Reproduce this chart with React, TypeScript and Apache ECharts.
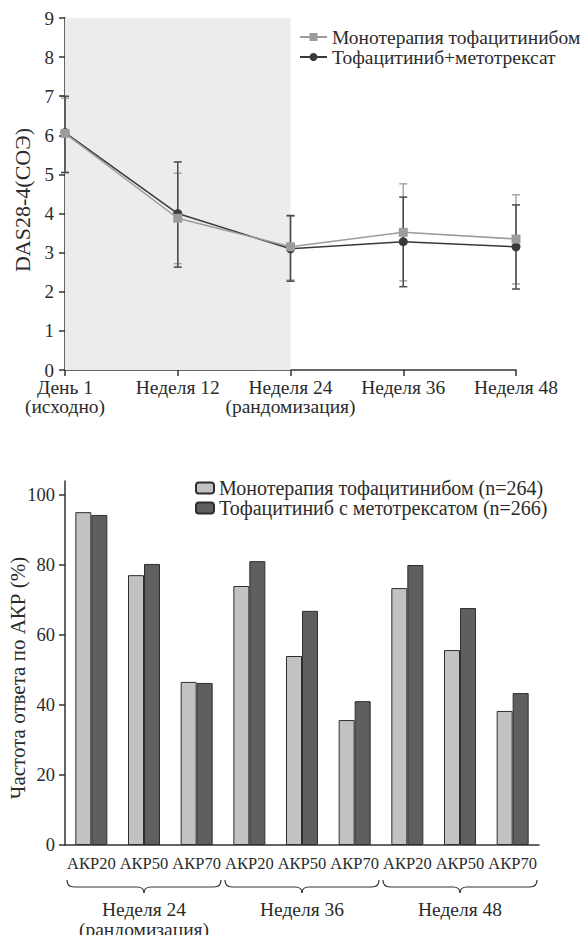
import React, { useEffect, useRef } from 'react';
import * as echarts from 'echarts';

const FONT = "'Liberation Serif', 'Times New Roman', serif";
const TEXT = '#2b2b2b';
const AXIS = '#333333';

// Top chart: DAS28-4(СОЭ)
const timepoints = ['День 1', 'Неделя 12', 'Неделя 24', 'Неделя 36', 'Неделя 48'];
const timeSublabels = ['(исходно)', '', '(рандомизация)', '', ''];
const monoName = 'Монотерапия тофацитинибом';
const comboName = 'Тофацитиниб+метотрексат';
const monoMean = [6.05, 3.88, 3.15, 3.52, 3.35];
const monoLow = [5.05, 2.72, 2.3, 2.28, 2.2];
const monoHigh = [6.95, 5.03, 3.93, 4.76, 4.48];
const comboMean = [6.07, 4.0, 3.1, 3.28, 3.15];
const comboLow = [5.05, 2.63, 2.27, 2.13, 2.07];
const comboHigh = [7.0, 5.32, 3.95, 4.42, 4.22];

// Bottom chart: ACR response
const acrCategories = ['АКР20', 'АКР50', 'АКР70', 'АКР20', 'АКР50', 'АКР70', 'АКР20', 'АКР50', 'АКР70'];
const weekGroups = ['Неделя 24\n(рандомизация)', 'Неделя 36', 'Неделя 48'];
const barMonoName = 'Монотерапия тофацитинибом (n=264)';
const barComboName = 'Тофацитиниб с метотрексатом (n=266)';
const barMono = [95.1, 77.1, 46.6, 74.0, 54.0, 35.7, 73.4, 55.7, 38.3];
const barCombo = [94.3, 80.3, 46.3, 81.1, 66.9, 41.1, 80.0, 67.7, 43.4];
const acrTicks = [0, 20, 40, 60, 80, 100];

function errorSeries(name: string, low: number[], high: number[], color: string, z: number) {
  return {
    type: 'custom',
    name,
    xAxisIndex: 0,
    yAxisIndex: 0,
    z,
    silent: true,
    data: low.map((l, i) => [i, l, high[i]]),
    encode: { x: 0, y: [1, 2] },
    renderItem: (params: any, api: any) => {
      const i = api.value(0);
      const lo = api.coord([i, api.value(1)]);
      const hi = api.coord([i, api.value(2)]);
      const w = 4;
      const style = { stroke: color, lineWidth: 1.5 };
      return {
        type: 'group',
        children: [
          { type: 'line', shape: { x1: lo[0], y1: lo[1], x2: hi[0], y2: hi[1] }, style },
          { type: 'line', shape: { x1: lo[0] - w, y1: lo[1], x2: lo[0] + w, y2: lo[1] }, style },
          { type: 'line', shape: { x1: hi[0] - w, y1: hi[1], x2: hi[0] + w, y2: hi[1] }, style },
        ],
      };
    },
  };
}

export default function App() {
  const ref = useRef<HTMLDivElement>(null);
  useEffect(() => {
    if (!ref.current) return;
    const chart = echarts.init(ref.current, undefined, { renderer: 'svg' });
    const braceStyle = { stroke: '#333', lineWidth: 1.2, fill: null };
    chart.setOption({
      animation: false,
      textStyle: { fontFamily: FONT, color: TEXT },
      grid: [
        { left: 65, top: 18, right: 66, bottom: 565, containLabel: false, outerBoundsMode: 'none' },
        { left: 65, top: 481, right: 43, bottom: 90, containLabel: false, outerBoundsMode: 'none' },
      ],
      legend: [
        {
          data: [monoName, comboName],
          orient: 'vertical',
          left: 294,
          top: 22,
          itemWidth: 27,
          itemHeight: 10,
          itemGap: 0,
          textStyle: { fontSize: 19.5, fontFamily: FONT, color: TEXT },
        },
        {
          data: [barMonoName, barComboName],
          orient: 'vertical',
          left: 190,
          top: 473,
          itemWidth: 18,
          itemHeight: 11,
          itemGap: 0,
          textStyle: { fontSize: 20, fontFamily: FONT, color: TEXT },
        },
      ],
      xAxis: [
        {
          type: 'category',
          gridIndex: 0,
          data: timepoints,
          boundaryGap: false,
          axisLine: { lineStyle: { color: AXIS, width: 1.5 } },
          axisTick: { length: 6, lineStyle: { color: AXIS, width: 1.5 } },
          axisLabel: {
            fontSize: 19.5,
            color: TEXT,
            fontFamily: FONT,
            margin: 8,
            lineHeight: 19,
            interval: 0,
            formatter: (v: string, i: number) => (timeSublabels[i] ? v + '\n' + timeSublabels[i] : v),
          },
        },
        {
          type: 'category',
          gridIndex: 1,
          data: acrCategories,
          axisLine: { lineStyle: { color: AXIS, width: 1.5 } },
          axisTick: { length: 6, lineStyle: { color: AXIS, width: 1.5 } },
          axisLabel: { fontSize: 16.5, color: TEXT, fontFamily: FONT, margin: 10, interval: 0 },
        },
        {
          type: 'category',
          gridIndex: 1,
          data: weekGroups,
          position: 'bottom',
          offset: 46,
          axisLine: { show: false },
          axisTick: { show: false },
          axisLabel: { fontSize: 19.5, color: TEXT, fontFamily: FONT, margin: 8, lineHeight: 20, interval: 0 },
        },
      ],
      yAxis: [
        {
          type: 'value',
          gridIndex: 0,
          min: 0,
          max: 9,
          interval: 1,
          name: 'DAS28-4(СОЭ)',
          nameLocation: 'middle',
          nameGap: 32,
          nameMoveOverlap: false,
          nameTextStyle: { fontSize: 22, color: TEXT, fontFamily: FONT, padding: [0, 12, 0, 0] },
          splitLine: { show: false },
          axisLine: { show: true, lineStyle: { color: AXIS, width: 1.5 } },
          axisTick: { show: true, length: 6, lineStyle: { color: AXIS, width: 1.5 } },
          axisLabel: { fontSize: 19, color: TEXT, fontFamily: FONT, margin: 11 },
        },
        {
          type: 'value',
          gridIndex: 1,
          min: 0,
          max: 104,
          interval: 20,
          name: 'Частота ответа по АКР (%)',
          nameLocation: 'middle',
          nameGap: 37,
          nameMoveOverlap: false,
          nameTextStyle: { fontSize: 21, color: TEXT, fontFamily: FONT, padding: [0, 30, 0, 0] },
          splitLine: { show: false },
          axisLine: { show: true, lineStyle: { color: AXIS, width: 1.5 } },
          axisTick: { show: true, length: 6, customValues: acrTicks, lineStyle: { color: AXIS, width: 1.5 } },
          axisLabel: { fontSize: 18.5, color: TEXT, fontFamily: FONT, margin: 10, customValues: acrTicks },
        },
      ],
      series: [
        errorSeries('err-mono', monoLow, monoHigh, '#a6a6a6', 2),
        errorSeries('err-combo', comboLow, comboHigh, '#4a4a4a', 3),
        {
          type: 'line',
          name: comboName,
          xAxisIndex: 0,
          yAxisIndex: 0,
          z: 4,
          data: comboMean,
          symbol: 'circle',
          symbolSize: 9,
          lineStyle: { color: '#3a3a3a', width: 1.5 },
          itemStyle: { color: '#3a3a3a' },
        },
        {
          type: 'line',
          name: monoName,
          xAxisIndex: 0,
          yAxisIndex: 0,
          z: 5,
          data: monoMean,
          symbol: 'rect',
          symbolSize: 9,
          lineStyle: { color: '#9c9c9c', width: 1.5 },
          itemStyle: { color: '#9c9c9c' },
          markArea: {
            silent: true,
            itemStyle: { color: '#ececec' },
            data: [[{ xAxis: timepoints[0] }, { xAxis: timepoints[2] }]],
          },
        },
        {
          type: 'bar',
          name: barMonoName,
          xAxisIndex: 1,
          yAxisIndex: 1,
          data: barMono,
          barWidth: 16,
          barGap: '0%',
          itemStyle: { color: '#c2c2c2', borderColor: '#2e2e2e', borderWidth: 1 },
        },
        {
          type: 'bar',
          name: barComboName,
          xAxisIndex: 1,
          yAxisIndex: 1,
          data: barCombo,
          barWidth: 16,
          barGap: '0%',
          itemStyle: { color: '#5f5f5f', borderColor: '#2e2e2e', borderWidth: 1 },
        },
        {
          type: 'custom',
          name: 'braces',
          xAxisIndex: 2,
          yAxisIndex: 1,
          clip: false,
          silent: true,
          data: weekGroups.map((g, i) => [i, 0]),
          encode: { x: 0, y: 1 },
          renderItem: (params: any, api: any) => {
            const i = api.value(0);
            const c = api.coord([i, 0]);
            const bw = api.size([1, 0])[0];
            const x0 = c[0] - bw / 2 + 2;
            const x1 = c[0] + bw / 2 - 2;
            const xc = c[0];
            const yT = c[1] + 35;
            const yM = c[1] + 42;
            const yB = c[1] + 48;
            const r = 7;
            return {
              type: 'group',
              children: [
                { type: 'bezierCurve', shape: { x1: x0, y1: yT, cpx1: x0, cpy1: yM, x2: x0 + r, y2: yM }, style: braceStyle },
                { type: 'line', shape: { x1: x0 + r, y1: yM, x2: xc - r, y2: yM }, style: braceStyle },
                { type: 'bezierCurve', shape: { x1: xc - r, y1: yM, cpx1: xc, cpy1: yM, x2: xc, y2: yB }, style: braceStyle },
                { type: 'bezierCurve', shape: { x1: xc + r, y1: yM, cpx1: xc, cpy1: yM, x2: xc, y2: yB }, style: braceStyle },
                { type: 'line', shape: { x1: xc + r, y1: yM, x2: x1 - r, y2: yM }, style: braceStyle },
                { type: 'bezierCurve', shape: { x1: x1 - r, y1: yM, cpx1: x1, cpy1: yM, x2: x1, y2: yT }, style: braceStyle },
              ],
            };
          },
        },
      ],
    });
    return () => chart.dispose();
  }, []);
  return (
    <div
      ref={ref}
      style={{ position: 'absolute', left: 0, top: 0, width: 582, height: 935, background: '#fff' }}
    />
  );
}
